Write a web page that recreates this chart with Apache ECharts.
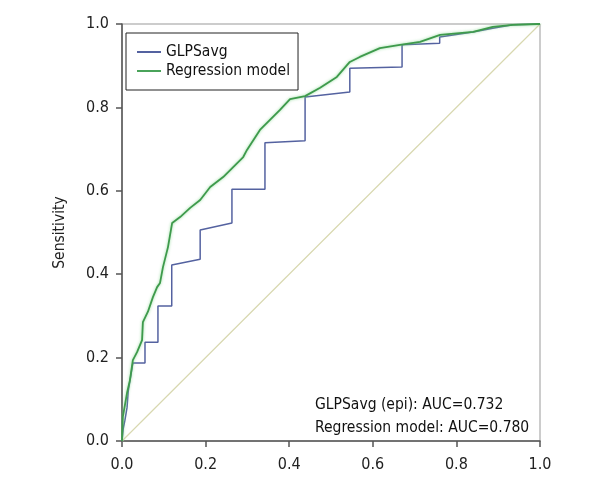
<!DOCTYPE html>
<html>
<head>
<meta charset="utf-8">
<script src="https://cdn.jsdelivr.net/npm/echarts@6/dist/echarts.min.js"></script>
<style>html,body{margin:0;padding:0;background:#fff;}#c{width:600px;height:500px;}</style>
</head>
<body>
<div id="c"></div>
<script>
var FONT = "'Liberation Sans Narrow','DejaVu Sans Condensed','Roboto Condensed',sans-serif";
var seriesNames = ['GLPSavg', 'Regression model'];
var axisTicks = [0, 0.2, 0.4, 0.6, 0.8, 1.0];
var glpsavgX = [0,0.003,0.007,0.012,0.015,0.02,0.026,0.055,0.055,0.086,0.086,0.119,0.119,0.187,0.187,0.263,0.263,0.342,0.342,0.438,0.438,0.545,0.545,0.67,0.67,0.76,0.76,0.84,0.887,0.935,1];
var glpsavgY = [0,0.03,0.05,0.08,0.12,0.15,0.187,0.187,0.237,0.237,0.324,0.324,0.422,0.436,0.506,0.523,0.604,0.604,0.715,0.72,0.825,0.837,0.894,0.897,0.95,0.954,0.969,0.981,0.99,0.998,1];
var regX = [0,0.002,0.012,0.019,0.026,0.036,0.048,0.05,0.062,0.074,0.084,0.091,0.098,0.11,0.12,0.139,0.163,0.187,0.211,0.242,0.266,0.29,0.299,0.33,0.354,0.378,0.402,0.438,0.474,0.514,0.545,0.569,0.617,0.665,0.713,0.761,0.84,0.887,0.935,0.995,1];
var regY = [0,0.058,0.115,0.146,0.194,0.213,0.242,0.285,0.31,0.345,0.369,0.379,0.417,0.465,0.523,0.537,0.559,0.578,0.609,0.633,0.657,0.681,0.698,0.746,0.77,0.794,0.82,0.827,0.847,0.873,0.909,0.921,0.942,0.95,0.957,0.974,0.981,0.993,0.998,1,1];
var refX = [0, 1];
var refY = [0, 1];
var aucLines = ['GLPSavg (epi): AUC=0.732', 'Regression model: AUC=0.780'];

function zip(a, b) { return a.map(function (v, i) { return [v, b[i]]; }); }

var chart = echarts.init(document.getElementById('c'), null, {renderer: 'canvas'});
var axisCommon = {
  type: 'value', min: 0, max: 1, interval: 0.2,
  axisLine: {show: true, lineStyle: {color: '#555', width: 1.5}},
  axisTick: {show: true, length: 6, lineStyle: {color: '#555', width: 1.5}},
  splitLine: {show: false},
  axisLabel: {color: '#222', fontSize: 16, fontFamily: FONT, formatter: function (v) { return v.toFixed(1); }}
};
chart.setOption({
  animation: false,
  textStyle: {fontFamily: FONT},
  grid: {left: 122, right: 60, top: 24, bottom: 59, show: true, borderColor: '#999', borderWidth: 1},
  xAxis: Object.assign({}, axisCommon, {axisLabel: Object.assign({}, axisCommon.axisLabel, {margin: 16})}),
  yAxis: Object.assign({}, axisCommon, {
    name: 'Sensitivity', nameLocation: 'middle', nameGap: 54,
    nameTextStyle: {color: '#222', fontSize: 15.5, fontFamily: FONT},
    axisLabel: Object.assign({}, axisCommon.axisLabel, {margin: 13})
  }),
  legend: {
    data: seriesNames, orient: 'vertical', left: 126, top: 33,
    backgroundColor: '#fff', borderColor: '#222', borderWidth: 1, borderRadius: 0,
    padding: [10, 8, 10, 11], itemGap: 1, itemWidth: 24, itemHeight: 2, icon: 'rect',
    textStyle: {fontSize: 15.5, color: '#111', fontFamily: FONT, lineHeight: 18}
  },
  series: [
    {name: 'ref', type: 'line', data: zip(refX, refY), symbol: 'none', silent: true,
     lineStyle: {color: '#d8d8b0', width: 1.2}, z: 1},
    {name: seriesNames[0], type: 'line', data: zip(glpsavgX, glpsavgY), symbol: 'none',
     itemStyle: {color: '#5462a0'}, lineStyle: {color: '#5462a0', width: 1.5}, z: 2},
    {name: seriesNames[1], type: 'line', data: zip(regX, regY), symbol: 'none',
     itemStyle: {color: '#4aa35a'},
     lineStyle: {color: '#3e9a4c', width: 1.8, shadowColor: 'rgba(120,210,130,0.8)', shadowBlur: 3}, z: 3}
  ],
  graphic: [
    {type: 'text', left: 315, top: 397, style: {text: aucLines[0], fontSize: 15.5, fill: '#111', fontFamily: FONT}},
    {type: 'text', left: 315, top: 420, style: {text: aucLines[1], fontSize: 15.5, fill: '#111', fontFamily: FONT}}
  ]
});
</script>
</body>
</html>
